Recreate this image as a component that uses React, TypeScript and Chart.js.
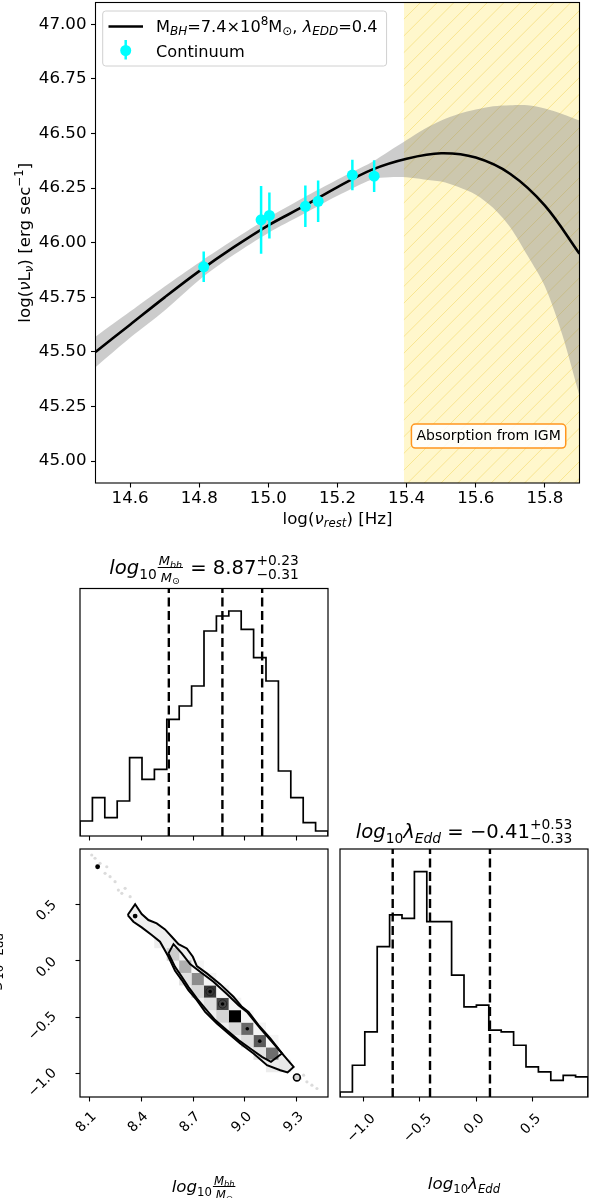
import React, { useEffect, useRef } from "react";
import Chart from "chart.js/auto";

const W = 590;
const H = 1198;
const FAMILY = '"DejaVu Sans", "Liberation Sans", sans-serif';

// ================= SED panel (top) =================
const sedXRange = [14.5, 15.9];
const sedYRange = [44.9, 47.1];
const sedXTicks = [14.6, 14.8, 15.0, 15.2, 15.4, 15.6, 15.8];
const sedYTicks = [45.0, 45.25, 45.5, 45.75, 46.0, 46.25, 46.5, 46.75, 47.0];

const modelX = [14.5, 14.6, 14.7, 14.8, 14.9, 15.0, 15.1, 15.2, 15.3, 15.4, 15.5, 15.6, 15.7, 15.8, 15.9];
const modelY = [45.5, 45.625, 45.75, 45.87, 45.98, 46.08, 46.165, 46.255, 46.335, 46.385, 46.41, 46.39, 46.315, 46.17, 45.95];

const bandX = [14.5, 14.6, 14.7, 14.8, 14.9, 15.0, 15.1, 15.2, 15.3, 15.35, 15.4, 15.45, 15.5, 15.55, 15.6, 15.65, 15.7, 15.75, 15.8, 15.85, 15.9];
const bandUpper = [45.57, 45.685, 45.8, 45.91, 46.015, 46.115, 46.205, 46.29, 46.37, 46.42, 46.47, 46.52, 46.56, 46.59, 46.61, 46.625, 46.63, 46.63, 46.615, 46.59, 46.56];
const bandLower = [45.43, 45.565, 45.69, 45.83, 45.945, 46.045, 46.13, 46.215, 46.29, 46.3, 46.3, 46.29, 46.28, 46.255, 46.22, 46.16, 46.07, 45.94, 45.8, 45.58, 45.3];

const contX = [14.813, 14.979, 15.003, 15.107, 15.144, 15.243, 15.306];
const contY = [45.89, 46.105, 46.125, 46.167, 46.19, 46.31, 46.305];
const contErr = [0.07, 0.155, 0.105, 0.095, 0.095, 0.07, 0.073];

const igmStart = 15.392;
const igmLabelX = 15.637;
const igmLabelY = 45.115;
const igmText = "Absorption from IGM";

// ================= Corner plot =================
const mbhRange = [8.046, 9.481];
const leddRange = [-1.206, 0.987];
const mbhTicks = [8.1, 8.4, 8.7, 9.0, 9.3];
const leddTicks = [-1.0, -0.5, 0.0, 0.5];

const mbhCounts = [9, 23, 11, 21, 47, 34, 40, 70, 78, 90, 123, 132, 135, 124, 107, 93, 39, 23, 8, 3];
const leddCounts = [3, 19, 39, 90, 109, 107, 135, 105, 105, 73, 54, 55, 40, 39, 31, 18, 15, 10, 13, 12];
const mbhQuantiles = [8.56, 8.87, 9.1];
const leddQuantiles = [-0.74, -0.41, 0.12];

// 2D histogram cells (bin centres) and their grey level
const cellMbh = [8.512, 8.584, 8.656, 8.727, 8.799, 8.871, 8.943, 9.014, 9.086, 9.158, 9.23,
  8.656, 8.727, 8.799, 8.871, 8.943, 9.014, 9.086, 9.158,
  8.727, 8.799, 8.871, 8.943, 9.014, 9.086, 9.158];
const cellLedd = [0.165, 0.055, -0.054, -0.164, -0.274, -0.383, -0.493, -0.603, -0.712, -0.822, -0.932,
  -0.164, -0.274, -0.383, -0.493, -0.603, -0.712, -0.822, -0.932,
  -0.054, -0.164, -0.274, -0.383, -0.493, -0.603, -0.712];
const cellShade = [238, 205, 175, 140, 55, 70, 0, 105, 90, 110, 232,
  225, 215, 222, 212, 218, 222, 226, 236,
  246, 244, 246, 244, 246, 244, 246];

const outerMbh = [8.322, 8.365, 8.403, 8.442, 8.49, 8.538, 8.577, 8.616, 8.664, 8.699, 8.722, 8.78, 8.857, 8.934, 8.983, 9.021, 9.079, 9.147, 9.215, 9.282, 9.247, 9.205, 9.128, 9.05, 8.973, 8.905, 8.838, 8.77, 8.722, 8.673, 8.635, 8.596, 8.558, 8.509, 8.461, 8.403, 8.355, 8.322];
const outerLedd = [0.403, 0.498, 0.412, 0.359, 0.329, 0.276, 0.211, 0.146, 0.108, 0.034, -0.048, -0.113, -0.208, -0.32, -0.409, -0.453, -0.571, -0.688, -0.821, -0.94, -0.989, -0.969, -0.925, -0.821, -0.733, -0.644, -0.556, -0.453, -0.349, -0.261, -0.172, -0.09, 0.034, 0.167, 0.226, 0.294, 0.344, 0.403];
const innerMbh = [8.558, 8.587, 8.635, 8.683, 8.741, 8.818, 8.896, 8.963, 9.012, 9.089, 9.157, 9.215, 9.151, 9.099, 9.031, 8.963, 8.896, 8.828, 8.77, 8.722, 8.673, 8.635, 8.596, 8.558];
const innerLedd = [0.064, 0.146, 0.064, -0.031, -0.099, -0.187, -0.296, -0.394, -0.453, -0.6, -0.718, -0.821, -0.895, -0.851, -0.777, -0.703, -0.615, -0.526, -0.423, -0.334, -0.232, -0.143, -0.055, 0.064];

const faintMbh = [8.114, 8.133, 8.162, 8.191, 8.201, 8.22, 8.249, 8.268, 8.288, 8.307, 8.336, 9.321, 9.34, 9.359, 9.388, 9.417];
const faintLedd = [0.934, 0.905, 0.86, 0.772, 0.83, 0.742, 0.698, 0.624, 0.595, 0.639, 0.565, -1.042, -1.013, -1.072, -1.101, -1.131];
const outlierMbh = [8.148, 8.365];
const outlierLedd = [0.83, 0.394];
const ringMbh = [9.301];
const ringLedd = [-1.033];
const peakMbh = [8.799, 8.871, 9.014, 9.086];
const peakLedd = [-0.274, -0.383, -0.603, -0.712];

// ================= text helpers =================
function setF(ctx: any, s: number, it?: boolean) {
  ctx.font = `${it ? "italic " : ""}${s}px ${FAMILY}`;
}
function segW(ctx: any, g: any): number {
  if (g.frac) return Math.max(segsW(ctx, g.frac.num), segsW(ctx, g.frac.den)) + 4;
  if (g.stack) return Math.max(segsW(ctx, g.stack.sup), segsW(ctx, g.stack.sub));
  setF(ctx, g.s, g.it);
  return ctx.measureText(g.t).width;
}
function segsW(ctx: any, segs: any[]): number {
  let w = 0;
  for (const g of segs) w += segW(ctx, g);
  return w;
}
function drawSegs(ctx: any, x: number, y: number, segs: any[]) {
  let cx = x;
  for (const g of segs) {
    const w = segW(ctx, g);
    if (g.frac) {
      const nw = segsW(ctx, g.frac.num);
      const dw = segsW(ctx, g.frac.den);
      drawSegs(ctx, cx + (w - nw) / 2, y + g.frac.numDy, g.frac.num);
      drawSegs(ctx, cx + (w - dw) / 2, y + g.frac.denDy, g.frac.den);
      ctx.fillRect(cx + 1, y + g.frac.lineDy - 0.5, w - 2, 1);
    } else if (g.stack) {
      drawSegs(ctx, cx, y + g.stack.supDy, g.stack.sup);
      drawSegs(ctx, cx, y + g.stack.subDy, g.stack.sub);
    } else {
      setF(ctx, g.s, g.it);
      ctx.fillText(g.t, cx, y + (g.dy || 0));
    }
    cx += w;
  }
}
function drawRich(ctx: any, x: number, y: number, segs: any[], align = "left", rot = 0) {
  ctx.save();
  ctx.fillStyle = "#000";
  ctx.textAlign = "left";
  ctx.textBaseline = "alphabetic";
  ctx.translate(x, y);
  if (rot) ctx.rotate(rot);
  const w = segsW(ctx, segs);
  const sx = align === "center" ? -w / 2 : align === "right" ? -w : 0;
  drawSegs(ctx, sx, 0, segs);
  ctx.restore();
  return w;
}
function rrect(ctx: any, x: number, y: number, w: number, h: number, r: number) {
  ctx.beginPath();
  ctx.moveTo(x + r, y);
  ctx.lineTo(x + w - r, y);
  ctx.arcTo(x + w, y, x + w, y + r, r);
  ctx.lineTo(x + w, y + h - r);
  ctx.arcTo(x + w, y + h, x + w - r, y + h, r);
  ctx.lineTo(x + r, y + h);
  ctx.arcTo(x, y + h, x, y + h - r, r);
  ctx.lineTo(x, y + r);
  ctx.arcTo(x, y, x + r, y, r);
  ctx.closePath();
}
const fmt1 = (v: number) => (v < 0 ? "\u2212" : "") + Math.abs(v).toFixed(1);

// ---- rich labels ----
const FS = 16.67;
const SS = 11.7;
const LS = 16.2;
const LSS = 12;
const legendModelSegs = [
  { t: "M", s: LS }, { t: "BH", s: LSS, it: true, dy: 3.2 }, { t: "=7.4\u00d710", s: LS },
  { t: "8", s: LSS, dy: -6.5 }, { t: "M", s: LS }, { t: "\u2299", s: LSS, dy: 3.2 },
  { t: ", ", s: LS }, { t: "\u03bb", s: LS, it: true }, { t: "EDD", s: LSS, it: true, dy: 3.2 }, { t: "=0.4", s: LS },
];
const sedXLabel = [{ t: "log(", s: FS }, { t: "\u03bd", s: FS, it: true }, { t: "rest", s: SS, it: true, dy: 3.5 }, { t: ") [Hz]", s: FS }];
const sedYLabel = [
  { t: "log(", s: FS }, { t: "\u03bd", s: FS, it: true }, { t: "L", s: FS }, { t: "\u03bd", s: SS, it: true, dy: 3.5 },
  { t: ") [erg sec", s: FS }, { t: "\u22121", s: SS, dy: -7 }, { t: "]", s: FS },
];
const TS = 19.6;
const TSS = 13.8;
const mbhTitle = [
  { t: "log", s: TS, it: true }, { t: "10", s: TSS, dy: 4.5 },
  { frac: { num: [{ t: "M", s: 13, it: true }, { t: "bh", s: 9.5, it: true, dy: 2.5 }], den: [{ t: "M", s: 13, it: true }, { t: "\u2299", s: 9.5, dy: 2.5 }], numDy: -9, denDy: 7.5, lineDy: -6.5 } },
  { t: " = 8.87", s: TS },
  { stack: { sup: [{ t: "+0.23", s: TSS }], sub: [{ t: "\u22120.31", s: TSS }], supDy: -9, subDy: 5 } },
];
const leddTitle = [
  { t: "log", s: TS, it: true }, { t: "10", s: TSS, dy: 4.5 }, { t: "\u03bb", s: TS, it: true }, { t: "Edd", s: TSS, it: true, dy: 4.5 },
  { t: " = \u22120.41", s: TS },
  { stack: { sup: [{ t: "+0.53", s: TSS }], sub: [{ t: "\u22120.33", s: TSS }], supDy: -9, subDy: 5 } },
];
const mbhAxisLabel = [
  { t: "log", s: FS, it: true }, { t: "10", s: SS, dy: 4 },
  { frac: { num: [{ t: "M", s: 11.7, it: true }, { t: "bh", s: 8.2, it: true, dy: 2 }], den: [{ t: "M", s: 11.7, it: true }, { t: "\u2299", s: 8.2, dy: 2 }], numDy: -7.5, denDy: 7, lineDy: -5.5 } },
];
const leddAxisLabel = [
  { t: "log", s: FS, it: true }, { t: "10", s: SS, dy: 4 }, { t: "\u03bb", s: FS, it: true }, { t: "Edd", s: SS, it: true, dy: 4 },
];

// ================= chart helpers =================
const sizeFit = (size: number) => (s: any) => {
  if (s.isHorizontal()) s.height = size;
  else s.width = size;
  s.paddingLeft = 0; s.paddingRight = 0; s.paddingTop = 0; s.paddingBottom = 0;
};
const fixedTicks = (vals: number[]) => (s: any) => {
  s.ticks = vals.map((v) => ({ value: v }));
};
const pad = (a: any) => ({ left: a.l, top: a.t, right: W - a.r, bottom: H - a.b });
const pts = (xs: number[], ys: number[]) => xs.map((x, i) => ({ x, y: ys[i] }));

function tickAxis(min: number, max: number, ticks: number[] | null) {
  return {
    type: "linear",
    min, max,
    display: ticks ? true : false,
    afterBuildTicks: ticks ? fixedTicks(ticks) : undefined,
    afterFit: sizeFit(0),
    border: { display: false },
    grid: { drawOnChartArea: false, drawTicks: true, tickLength: 4.5, tickColor: "#000", tickWidth: 1.1 },
    ticks: { display: false, autoSkip: false },
  };
}

function frame(ctx: any, a: any, lw = 1.2) {
  ctx.save();
  ctx.strokeStyle = "#000";
  ctx.lineWidth = lw;
  ctx.strokeRect(a.left, a.top, a.right - a.left, a.bottom - a.top);
  ctx.restore();
}

function rotXTicks(ctx: any, scale: any, vals: number[], top: number, dx: number) {
  ctx.save();
  setF(ctx, 13.9);
  ctx.fillStyle = "#000";
  ctx.textAlign = "center";
  ctx.textBaseline = "middle";
  for (const v of vals) {
    const t = fmt1(v);
    const w = ctx.measureText(t).width;
    const D = (w + 10) / Math.SQRT2;
    const px = scale.getPixelForValue(v);
    ctx.save();
    ctx.translate(px + dx, top + D / 2);
    ctx.rotate(-Math.PI / 4);
    ctx.fillText(t, 0, 0);
    ctx.restore();
  }
  ctx.restore();
}
function rotYTicks(ctx: any, scale: any, vals: number[], right: number) {
  ctx.save();
  setF(ctx, 13.9);
  ctx.fillStyle = "#000";
  ctx.textAlign = "center";
  ctx.textBaseline = "middle";
  for (const v of vals) {
    const t = fmt1(v);
    const w = ctx.measureText(t).width;
    const D = (w + 10) / Math.SQRT2;
    const py = scale.getPixelForValue(v);
    ctx.save();
    ctx.translate(right - D / 2, py + 0.3 * D);
    ctx.rotate(-Math.PI / 4);
    ctx.fillText(t, 0, 0);
    ctx.restore();
  }
  ctx.restore();
}

function histData(counts: number[], range: number[]) {
  const n = counts.length;
  const step = (range[1] - range[0]) / n;
  const d: any[] = [{ x: range[0], y: 0 }];
  counts.forEach((c, i) => d.push({ x: range[0] + i * step, y: c }));
  d.push({ x: range[1], y: counts[n - 1] });
  d.push({ x: range[1], y: 0 });
  return d;
}
function vlines(xs: number[], top: number) {
  const d: any[] = [];
  xs.forEach((x) => { d.push({ x, y: 0 }, { x, y: top }, { x, y: null }); });
  return d;
}

const baseOpts = (padding: any) => ({
  responsive: false,
  animation: false,
  events: [],
  devicePixelRatio: 1,
  layout: { padding, autoPadding: false },
  plugins: { legend: { display: false }, tooltip: { enabled: false }, title: { display: false } },
});

// ================= component =================
export default function App() {
  const c1 = useRef<HTMLCanvasElement>(null);
  const c2 = useRef<HTMLCanvasElement>(null);
  const c3 = useRef<HTMLCanvasElement>(null);
  const c4 = useRef<HTMLCanvasElement>(null);

  useEffect(() => {
    const charts: any[] = [];

    // ---------- SED ----------
    const sedArea = { l: 95.5, t: 2.5, r: 579.5, b: 483 };
    const errData: any[] = [];
    contX.forEach((x, i) => {
      errData.push({ x, y: contY[i] - contErr[i] }, { x, y: contY[i] + contErr[i] }, { x, y: null });
    });
    const sedPlugin = {
      id: "sedDecor",
      beforeDatasetsDraw(chart: any) {
        const { ctx, chartArea: a, scales } = chart;
        const x0 = scales.x.getPixelForValue(igmStart);
        const h = a.bottom - a.top;
        ctx.save();
        ctx.beginPath();
        ctx.rect(x0, a.top, a.right - x0, h);
        ctx.clip();
        ctx.fillStyle = "rgba(255,215,0,0.2)";
        ctx.fillRect(x0, a.top, a.right - x0, h);
        ctx.strokeStyle = "rgba(235,195,30,0.35)";
        ctx.lineWidth = 1;
        ctx.beginPath();
        const sp = 16.7;
        for (let xs = x0 - h - sp; xs < a.right + sp; xs += sp) {
          ctx.moveTo(xs, a.bottom);
          ctx.lineTo(xs + h, a.top);
        }
        ctx.stroke();
        ctx.restore();
      },
      afterDraw(chart: any) {
        const { ctx, chartArea: a, scales } = chart;
        frame(ctx, a, 1.1);
        // IGM label
        ctx.save();
        setF(ctx, 14);
        const tw = ctx.measureText(igmText).width;
        const cx = scales.x.getPixelForValue(igmLabelX);
        const cy = scales.y.getPixelForValue(igmLabelY);
        rrect(ctx, cx - tw / 2 - 5, cy - 12, tw + 10, 24, 4);
        ctx.fillStyle = "rgba(255,255,255,0.85)";
        ctx.fill();
        ctx.strokeStyle = "rgb(255,150,30)";
        ctx.lineWidth = 1.5;
        ctx.stroke();
        ctx.fillStyle = "#000";
        ctx.textAlign = "center";
        ctx.textBaseline = "middle";
        ctx.fillText(igmText, cx, cy + 0.5);
        ctx.restore();
        // legend
        ctx.save();
        const w1 = segsW(ctx, legendModelSegs);
        setF(ctx, LS);
        const w2 = ctx.measureText("Continuum").width;
        const lx = 102.7, ly = 11, tx = 156;
        rrect(ctx, lx, ly, tx - lx + Math.max(w1, w2) + 9, 55, 3);
        ctx.fillStyle = "rgba(255,255,255,0.8)";
        ctx.fill();
        ctx.strokeStyle = "#d0d0d0";
        ctx.lineWidth = 1;
        ctx.stroke();
        ctx.strokeStyle = "#000";
        ctx.lineWidth = 2.6;
        ctx.beginPath();
        ctx.moveTo(108.5, 26.5);
        ctx.lineTo(143, 26.5);
        ctx.stroke();
        ctx.strokeStyle = "#00ffff";
        ctx.lineWidth = 2.5;
        ctx.beginPath();
        ctx.moveTo(125.7, 40);
        ctx.lineTo(125.7, 59.5);
        ctx.stroke();
        ctx.fillStyle = "#00ffff";
        ctx.beginPath();
        ctx.arc(125.7, 50.5, 5.5, 0, Math.PI * 2);
        ctx.fill();
        ctx.restore();
        drawRich(ctx, tx, 31.7, legendModelSegs);
        drawRich(ctx, tx, 57.3, [{ t: "Continuum", s: LS }]);
        // axis labels
        drawRich(ctx, (a.left + a.right) / 2, 523.5, sedXLabel, "center");
        drawRich(ctx, 29.5, (a.top + a.bottom) / 2, sedYLabel, "center", -Math.PI / 2);
      },
    };
    const tickFont = { family: FAMILY, size: 16.67 };
    charts.push(new Chart(c1.current as any, {
      type: "line",
      data: {
        datasets: [
          { label: "Continuum", data: pts(contX, contY), showLine: false, pointRadius: 5.5, pointBackgroundColor: "#00ffff", pointBorderWidth: 0 },
          { label: "err", data: errData, borderColor: "#00ffff", borderWidth: 2.5, pointRadius: 0, spanGaps: false, tension: 0 },
          { label: "model", data: pts(modelX, modelY), borderColor: "#000", borderWidth: 2.6, pointRadius: 0, tension: 0.35 },
          { label: "upper", data: pts(bandX, bandUpper), borderColor: "rgba(0,0,0,0)", borderWidth: 0, pointRadius: 0, tension: 0.3, fill: "+1", backgroundColor: "rgba(128,128,128,0.4)" },
          { label: "lower", data: pts(bandX, bandLower), borderColor: "rgba(0,0,0,0)", borderWidth: 0, pointRadius: 0, tension: 0.3, fill: false },
        ],
      },
      options: {
        ...baseOpts({ left: 0, top: sedArea.t, right: W - sedArea.r, bottom: 0 }),
        scales: {
          x: {
            type: "linear", min: sedXRange[0], max: sedXRange[1],
            afterBuildTicks: fixedTicks(sedXTicks), afterFit: sizeFit(H - sedArea.b),
            border: { display: false },
            grid: { drawOnChartArea: false, tickLength: 4.5, tickColor: "#000", tickWidth: 1.1 },
            ticks: { color: "#000", font: tickFont, padding: 1, autoSkip: false, maxRotation: 0, minRotation: 0, callback: (v: any) => Number(v).toFixed(1) },
          },
          y: {
            type: "linear", min: sedYRange[0], max: sedYRange[1],
            afterBuildTicks: fixedTicks(sedYTicks), afterFit: sizeFit(sedArea.l),
            border: { display: false },
            grid: { drawOnChartArea: false, tickLength: 4.5, tickColor: "#000", tickWidth: 1.1 },
            ticks: { color: "#000", font: tickFont, padding: 4.5, autoSkip: false, callback: (v: any) => Number(v).toFixed(2) },
          },
        },
      },
      plugins: [sedPlugin],
    } as any));

    // ---------- Mbh histogram ----------
    const mbhArea = { l: 80, t: 588.5, r: 328, b: 836 };
    const mbhTop = Math.max(...mbhCounts) * 1.1;
    charts.push(new Chart(c2.current as any, {
      type: "line",
      data: {
        datasets: [
          { label: "q", data: vlines(mbhQuantiles, mbhTop), borderColor: "#000", borderWidth: 2.4, borderDash: [9, 4.5], pointRadius: 0, spanGaps: false },
          { label: "hist", data: histData(mbhCounts, mbhRange), borderColor: "#000", borderWidth: 1.7, pointRadius: 0, stepped: "before" },
        ],
      },
      options: {
        ...baseOpts(pad(mbhArea)),
        scales: { x: tickAxis(mbhRange[0], mbhRange[1], mbhTicks), y: tickAxis(0, mbhTop, null) },
      },
      plugins: [{
        id: "mbhDecor",
        afterDraw(chart: any) {
          const { ctx, chartArea: a } = chart;
          frame(ctx, a);
          drawRich(ctx, (a.left + a.right) / 2, a.top - 14.5, mbhTitle, "center");
        },
      }],
    } as any));

    // ---------- 2D panel ----------
    const d2Area = { l: 80, t: 849, r: 328, b: 1097 };
    charts.push(new Chart(c3.current as any, {
      type: "line",
      data: {
        datasets: [
          { label: "peakDot", data: pts(peakMbh, peakLedd), showLine: false, pointRadius: 1.8, pointBackgroundColor: "#000", pointBorderWidth: 0 },
          { label: "peakRing", data: pts(peakMbh.slice(0, 2), peakLedd.slice(0, 2)), showLine: false, pointRadius: 4.2, pointBackgroundColor: "rgba(0,0,0,0)", pointBorderColor: "#222", pointBorderWidth: 1 },
          { label: "outliers", data: pts(outlierMbh, outlierLedd), showLine: false, pointRadius: 2.4, pointBackgroundColor: "#000", pointBorderWidth: 0 },
          { label: "ring", data: pts(ringMbh, ringLedd), showLine: false, pointRadius: 3.4, pointBackgroundColor: "#d8d8d8", pointBorderColor: "#000", pointBorderWidth: 1.6 },
          { label: "inner", data: pts(innerMbh, innerLedd), borderColor: "#000", borderWidth: 2, pointRadius: 0, tension: 0 },
          { label: "outer", data: pts(outerMbh, outerLedd), borderColor: "#000", borderWidth: 2, pointRadius: 0, tension: 0 },
          { label: "cells", data: pts(cellMbh, cellLedd), showLine: false, pointStyle: "rect", pointRadius: 8.85, pointBorderWidth: 0, pointBackgroundColor: cellShade.map((g) => `rgb(${g},${g},${g})`) },
          { label: "outerFill", data: pts(outerMbh, outerLedd), borderColor: "rgba(0,0,0,0)", borderWidth: 0, pointRadius: 0, tension: 0, fill: "shape", backgroundColor: "#efefef" },
          { label: "faint", data: pts(faintMbh, faintLedd), showLine: false, pointRadius: 1.6, pointBackgroundColor: "rgba(0,0,0,0.14)", pointBorderWidth: 0 },
        ],
      },
      options: {
        ...baseOpts(pad(d2Area)),
        scales: { x: tickAxis(mbhRange[0], mbhRange[1], mbhTicks), y: tickAxis(leddRange[0], leddRange[1], leddTicks) },
      },
      plugins: [{
        id: "d2Decor",
        afterDraw(chart: any) {
          const { ctx, chartArea: a, scales } = chart;
          frame(ctx, a);
          rotXTicks(ctx, scales.x, mbhTicks, a.bottom + 14, -3);
          rotYTicks(ctx, scales.y, leddTicks, a.left - 22);
          drawRich(ctx, (a.left + a.right) / 2, 1192, mbhAxisLabel, "center");
          drawRich(ctx, -1, (a.top + a.bottom) / 2 - 4, leddAxisLabel, "center", -Math.PI / 2);
        },
      }],
    } as any));

    // ---------- lambda histogram ----------
    const lArea = { l: 340, t: 849, r: 588, b: 1097 };
    const lTop = Math.max(...leddCounts) * 1.1;
    charts.push(new Chart(c4.current as any, {
      type: "line",
      data: {
        datasets: [
          { label: "q", data: vlines(leddQuantiles, lTop), borderColor: "#000", borderWidth: 2.4, borderDash: [9, 4.5], pointRadius: 0, spanGaps: false },
          { label: "hist", data: histData(leddCounts, leddRange), borderColor: "#000", borderWidth: 1.7, pointRadius: 0, stepped: "before" },
        ],
      },
      options: {
        ...baseOpts(pad(lArea)),
        scales: { x: tickAxis(leddRange[0], leddRange[1], leddTicks), y: tickAxis(0, lTop, null) },
      },
      plugins: [{
        id: "lDecor",
        afterDraw(chart: any) {
          const { ctx, chartArea: a, scales } = chart;
          frame(ctx, a);
          drawRich(ctx, (a.left + a.right) / 2, a.top - 11, leddTitle, "center");
          rotXTicks(ctx, scales.x, leddTicks, a.bottom + 16, -2);
          drawRich(ctx, (a.left + a.right) / 2, 1188.5, leddAxisLabel, "center");
        },
      }],
    } as any));

    return () => charts.forEach((c) => c.destroy());
  }, []);

  const cs: any = { position: "absolute", left: 0, top: 0, width: W, height: H };
  return (
    <div style={{ position: "absolute", left: 0, top: 0, width: W, height: H, background: "#fff", overflow: "hidden" }}>
      <canvas ref={c1} width={W} height={H} style={cs} />
      <canvas ref={c2} width={W} height={H} style={cs} />
      <canvas ref={c3} width={W} height={H} style={cs} />
      <canvas ref={c4} width={W} height={H} style={cs} />
    </div>
  );
}
